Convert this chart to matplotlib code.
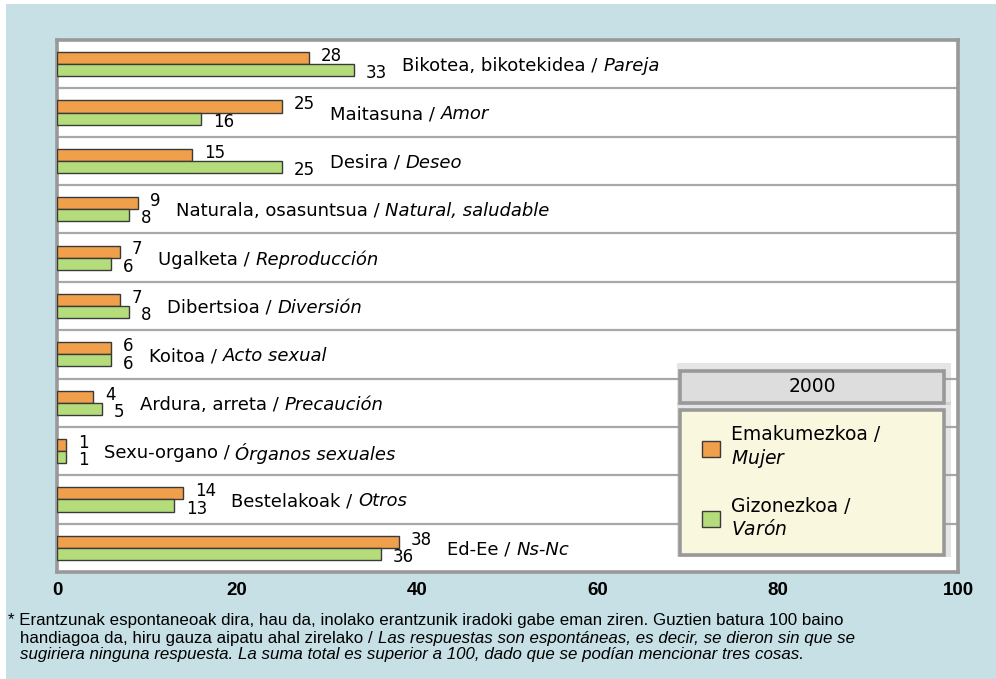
import matplotlib
matplotlib.use("Agg")
import matplotlib.pyplot as plt
from matplotlib.patches import Rectangle, Patch

# ---------------- data ----------------
cats_eu = ["Bikotea, bikotekidea", "Maitasuna", "Desira", "Naturala, osasuntsua",
           "Ugalketa", "Dibertsioa", "Koitoa", "Ardura, arreta", "Sexu-organo",
           "Bestelakoak", "Ed-Ee"]
cats_es = ["Pareja", "Amor", "Deseo", "Natural, saludable", "Reproducción",
           "Diversión", "Acto sexual", "Precaución", "Órganos sexuales",
           "Otros", "Ns-Nc"]
mujer = [28, 25, 15, 9, 7, 7, 6, 4, 1, 14, 38]
varon = [33, 16, 25, 8, 6, 8, 6, 5, 1, 13, 36]
xticks = [0, 20, 40, 60, 80, 100]
legend_title = "2000"
legend_labels = ["Emakumezkoa /\n$\\mathit{Mujer}$", "Gizonezkoa /\n$\\mathit{Varón}$"]
foot1 = "* Erantzunak espontaneoak dira, hau da, inolako erantzunik iradoki gabe eman ziren. Guztien batura 100 baino"
foot2a = "handiagoa da, hiru gauza aipatu ahal zirelako / "
foot2b = "Las respuestas son espontáneas, es decir, se dieron sin que se"
foot3 = "sugiriera ninguna respuesta. La suma total es superior a 100, dado que se podían mencionar tres cosas."

# ---------------- style ----------------
BG = "#C6E0E5"
ORANGE = "#F0A04B"
GREEN = "#B4DC7B"
EDGE = "#3A3A3A"
GRID = "#A8A8A8"
FRAME = "#999999"
NARROW = ["Liberation Sans", "DejaVu Sans"]

W, H = 996, 679
fig = plt.figure(figsize=(W / 100, H / 100), dpi=100)
fig.patch.set_facecolor("white")
fig.add_artist(Rectangle((6 / W, 0), 1 - 6 / W, 1 - 4 / H, transform=fig.transFigure,
                         facecolor=BG, edgecolor="none", zorder=-10))

ax = fig.add_axes([57 / W, 1 - 572 / H, (958 - 57) / W, (572 - 40) / H])
ax.set_facecolor("white")

n = len(cats_eu)
ys = list(range(n))
bh = 0.25
ax.barh([y - bh / 2 for y in ys], mujer, height=bh, color=ORANGE, edgecolor=EDGE,
        linewidth=1, zorder=3)
ax.barh([y + bh / 2 for y in ys], varon, height=bh, color=GREEN, edgecolor=EDGE,
        linewidth=1, zorder=3)

for k in range(n - 1):
    ax.axhline(k + 0.5, color=GRID, lw=1.6, zorder=1)

ax.set_xlim(0, 100)
ax.set_ylim(n - 0.5, -0.5)
ax.set_yticks([])
ax.set_xticks(xticks)
ax.set_xticklabels([str(t) for t in xticks], family=NARROW, fontweight="bold", fontsize=13.5)
ax.tick_params(axis="x", length=0, pad=7)
for s in ax.spines.values():
    s.set_color(FRAME)
    s.set_linewidth(2.6)

FS = 13
NFS = 12
for i, (eu, es, o, g) in enumerate(zip(cats_eu, cats_es, mujer, varon)):
    ax.text(o + 1.3, i - 0.17, str(o), ha="left", va="center", fontsize=NFS, zorder=4)
    ax.text(g + 1.3, i + 0.19, str(g), ha="left", va="center", fontsize=NFS, zorder=4)
    m = max(o, g)
    xt = m + 3.1 + 1.1 * len(str(m))
    t1 = ax.text(xt, i + 0.04, eu + " / ", ha="left", va="center", fontsize=FS, zorder=4)
    ax.annotate(es, xy=(1, 0.5), xycoords=t1, ha="left", va="center", fontsize=FS,
                style="italic", zorder=4)

# ---------------- legend ----------------
def box(x0, y0, x1, y1, fc, z):
    ax.add_patch(Rectangle(((x0 - 3) / W, 1 - (y1 + 2) / H), (x1 - x0 + 10) / W,
                           (y1 - y0 + 10) / H, transform=fig.transFigure,
                           facecolor="#9A9A9A", alpha=0.25, edgecolor="none",
                           zorder=z - 0.5, clip_on=False))
    ax.add_patch(Rectangle((x0 / W, 1 - y1 / H), (x1 - x0) / W, (y1 - y0) / H,
                           transform=fig.transFigure, facecolor=fc, edgecolor=FRAME,
                           linewidth=2.6, zorder=z, clip_on=False))

box(680, 371, 944, 403, "#DDDDDD", 6)
box(680, 410, 944, 555, "#FAF7DF", 6)
ax.text(812 / W, 1 - 387 / H, legend_title, transform=fig.transFigure, ha="center",
        va="center", fontsize=13.5, zorder=7)

handles = [Patch(facecolor=ORANGE, edgecolor=EDGE, linewidth=1),
           Patch(facecolor=GREEN, edgecolor=EDGE, linewidth=1)]
leg = ax.legend(handles, legend_labels, loc="upper left",
                bbox_to_anchor=(702 / W, 1 - 425 / H), bbox_transform=fig.transFigure,
                frameon=False, fontsize=13.5, handlelength=0.95, handleheight=0.95,
                handletextpad=0.6, labelspacing=1.4, borderpad=0, borderaxespad=0)
leg.set_zorder(8)

# ---------------- footnote ----------------
FFS = 12.2
fig.text(8 / W, 1 - 621 / H, foot1, ha="left", va="center", family=NARROW, fontsize=FFS)
t2 = fig.text(20 / W, 1 - 638 / H, foot2a, ha="left", va="center", family=NARROW,
              fontsize=FFS)
ax.annotate(foot2b, xy=(1, 0.5), xycoords=t2, ha="left", va="center", family=NARROW,
            fontsize=FFS, style="italic", annotation_clip=False)
fig.text(20 / W, 1 - 655 / H, foot3, ha="left", va="center", family=NARROW,
         fontsize=FFS, style="italic")

fig.savefig("out.png", dpi=100)
